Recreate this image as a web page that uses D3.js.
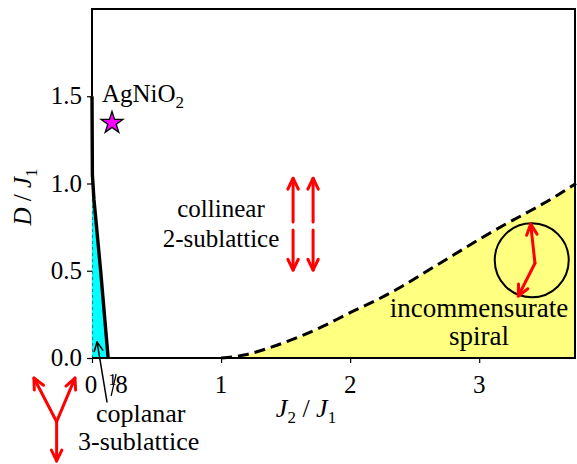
<!DOCTYPE html>
<html><head><meta charset="utf-8">
<script src="https://cdn.jsdelivr.net/npm/d3@7"></script>
<style>
html,body{margin:0;padding:0;background:#fff;}
svg text{font-family:"Liberation Serif","Times New Roman",serif;fill:#000;}
</style></head>
<body>
<svg id="chart" width="577" height="464"></svg>
<script>
// ---- data ----
const xTickValues = [0, 1, 2, 3];
const xTickLabels = ["0", "1", "2", "3"];
const yTickValues = [0.0, 0.5, 1.0, 1.5];
const yTickLabels = ["0.0", "0.5", "1.0", "1.5"];
// incommensurate spiral boundary (dashed)
const spiralJ2 = [1.0, 1.2, 1.4, 1.6, 1.8, 2.0, 2.2, 2.4, 2.6, 2.8, 3.0, 3.2, 3.4, 3.6, 3.75];
const spiralD  = [0, 0.02, 0.065, 0.12, 0.185, 0.26, 0.33, 0.41, 0.50, 0.59, 0.68, 0.765, 0.845, 0.93, 1.0];
// coplanar 3-sublattice boundary
const coplanarJ2 = [0.125, 0.067, 0.015, 0.003, 0];
const coplanarD  = [0, 0.5, 0.91, 1.05, 1.5];
// AgNiO2 point
const agnio2 = {J2: 0.155, D: 1.347};

const svg = d3.select("#chart");
const x = d3.scaleLinear().domain([0, 3.75]).range([92, 576]);
const y = d3.scaleLinear().domain([0, 2.0]).range([358, 9]);
const FS = 25;

// yellow spiral region
const spiralPts = spiralJ2.map((v, i) => [v, spiralD[i]]);
svg.append("path")
  .datum(spiralPts)
  .attr("d", d3.area().x(d => x(d[0])).y0(y(0)).y1(d => y(d[1])).curve(d3.curveMonotoneX))
  .attr("fill", "#ffff80");

// cyan coplanar region
const copPts = coplanarJ2.map((v, i) => [v, coplanarD[i]]);
const cyanPoly = [[0, 0]].concat(copPts);
svg.append("path")
  .attr("d", d3.line().x(d => x(d[0])).y(d => y(d[1]))(cyanPoly) + "Z")
  .attr("fill", "#00ffff");
svg.append("line")
  .attr("x1", x(0) + 0.5).attr("x2", x(0) + 0.5).attr("y1", y(0)).attr("y2", y(1.5))
  .attr("stroke", "#1a8a8a").attr("stroke-width", 1.2).attr("stroke-dasharray", "3,3");

// frame
svg.append("path")
  .attr("d", `M${x(0)},${y(1.5)} L${x(0)},${y(2)} L${x(3.75) - 1},${y(2)} L${x(3.75) - 1},${y(0)} L${x(0)},${y(0)}`)
  .attr("fill", "none").attr("stroke", "#000").attr("stroke-width", 2);

// coplanar boundary line
svg.append("path")
  .datum(copPts)
  .attr("d", d3.line().x(d => x(d[0])).y(d => y(d[1])))
  .attr("fill", "none").attr("stroke", "#000").attr("stroke-width", 3.4);

// spiral dashed boundary
svg.append("path")
  .datum(spiralPts)
  .attr("d", d3.line().x(d => x(d[0])).y(d => y(d[1])).curve(d3.curveMonotoneX))
  .attr("fill", "none").attr("stroke", "#000").attr("stroke-width", 3)
  .attr("stroke-dasharray", "11,6");

// axes ticks
const xAxis = d3.axisBottom(x).tickValues(xTickValues).tickSize(5).tickFormat("");
svg.append("g").attr("transform", `translate(0,${y(0)})`).call(xAxis)
  .call(g => g.select(".domain").remove())
  .call(g => g.selectAll("line").attr("stroke", "#000").attr("stroke-width", 1.2));
const yAxis = d3.axisLeft(y).tickValues(yTickValues).tickSize(5).tickFormat("");
svg.append("g").attr("transform", `translate(${x(0)},0)`).call(yAxis)
  .call(g => g.select(".domain").remove())
  .call(g => g.selectAll("line").attr("stroke", "#000").attr("stroke-width", 1.2));

// tick labels
svg.selectAll(".xl").data(xTickValues).enter().append("text")
  .attr("x", (d, i) => i === 0 ? x(d) - 1 : x(d)).attr("y", 393).attr("text-anchor", "middle")
  .attr("font-size", FS).text((d, i) => xTickLabels[i]);
// 1/8 label
const fx = x(0.125);
svg.append("text").attr("x", fx).attr("y", 385).attr("font-size", 17).text("1");
svg.append("line").attr("x1", fx + 3).attr("y1", 396).attr("x2", fx + 8).attr("y2", 374)
  .attr("stroke", "#000").attr("stroke-width", 1.2);
svg.append("text").attr("x", fx + 7).attr("y", 393).attr("font-size", FS).text("8");

svg.selectAll(".yl").data(yTickValues).enter().append("text")
  .attr("x", 82).attr("y", d => y(d) + 8).attr("text-anchor", "end")
  .attr("font-size", FS).text((d, i) => yTickLabels[i]);

// axis titles
const xt = svg.append("text").attr("x", 306).attr("y", 417).attr("text-anchor", "middle").attr("font-size", 26);
xt.append("tspan").attr("font-style", "italic").text("J");
xt.append("tspan").attr("font-size", 17).attr("dy", 6).text("2");
xt.append("tspan").attr("dy", -6).text(" / ");
xt.append("tspan").attr("font-style", "italic").text("J");
xt.append("tspan").attr("font-size", 17).attr("dy", 6).text("1");

const yt = svg.append("text").attr("transform", "translate(31,197) rotate(-90)")
  .attr("text-anchor", "middle").attr("font-size", 25);
yt.append("tspan").attr("font-style", "italic").text("D");
yt.append("tspan").text(" / ");
yt.append("tspan").attr("font-style", "italic").text("J");
yt.append("tspan").attr("font-size", 17).attr("dy", 6).text("1");

// AgNiO2 label and star
const ag = svg.append("text").attr("x", 102).attr("y", 102).attr("font-size", FS);
ag.append("tspan").text("AgNiO");
ag.append("tspan").attr("font-size", 17).attr("dy", 6).text("2");
svg.append("path")
  .attr("d", d3.symbol().type(d3.symbolStar).size(150)())
  .attr("transform", `translate(${x(agnio2.J2)},${y(agnio2.D)})`)
  .attr("fill", "#ff00ff").attr("stroke", "#000").attr("stroke-width", 1.3);

// phase labels
function label(lines, xs, baselines, anchor, fs) {
  lines.forEach((t, i) => {
    svg.append("text").attr("x", xs[i]).attr("y", baselines[i]).attr("text-anchor", anchor)
      .attr("font-size", fs).text(t);
  });
}
label(["collinear", "2-sublattice"], [221, 221], [217, 247], "middle", 25);
label(["incommensurate", "spiral"], [479, 479], [317, 345], "middle", 27);
label(["coplanar", "3-sublattice"], [96, 78], [422, 450], "start", 26);

// arrows helper (data coords -> px)
function arrow(p0, p1, color, width, head) {
  const x1 = x(p0[0]), y1 = y(p0[1]), x2 = x(p1[0]), y2 = y(p1[1]);
  const a = Math.atan2(y2 - y1, x2 - x1), h = head || 12, sp = 0.45;
  const g = svg.append("g").attr("stroke", color).attr("stroke-width", width)
    .attr("fill", "none").attr("stroke-linecap", "round").attr("stroke-linejoin", "round");
  g.append("line").attr("x1", x1).attr("y1", y1).attr("x2", x2).attr("y2", y2);
  g.append("path").attr("d",
    `M${x2 - h * Math.cos(a - sp)},${y2 - h * Math.sin(a - sp)} L${x2},${y2} L${x2 - h * Math.cos(a + sp)},${y2 - h * Math.sin(a + sp)}`);
}
// collinear spins
const colX = [1.558, 1.713];
colX.forEach(v => {
  arrow([v, 0.78], [v, 1.03], "#ff0000", 3, 12);
  arrow([v, 0.733], [v, 0.504], "#ff0000", 3, 12);
});
// spiral circle + spins
const circ = {J2: 3.407, D: 0.56};
svg.append("circle").attr("cx", x(circ.J2)).attr("cy", y(circ.D)).attr("r", 37)
  .attr("fill", "none").attr("stroke", "#000").attr("stroke-width", 2);
arrow([3.432, 0.543], [3.399, 0.768], "#ff0000", 3, 12);
arrow([3.432, 0.543], [3.303, 0.355], "#ff0000", 3, 12);
// coplanar spins
const cop = [-0.274, -0.365];
arrow(cop, [-0.45, -0.115], "#ff0000", 3, 12);
arrow(cop, [-0.132, -0.115], "#ff0000", 3, 12);
arrow(cop, [-0.274, -0.59], "#ff0000", 3, 12);
// pointer to coplanar region
arrow([0.116, -0.252], [0.039, 0.092], "#000", 1.5, 10);
</script>
</body></html>
